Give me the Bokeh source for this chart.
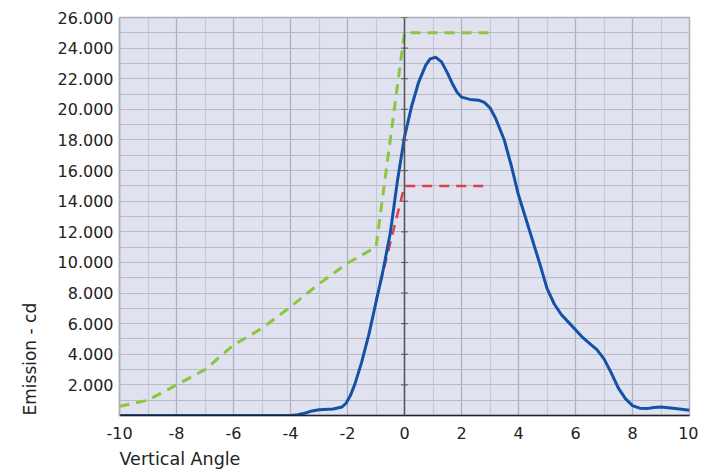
from bokeh.plotting import figure
from bokeh.models import FixedTicker, Title, Span
from bokeh.embed import file_html
from bokeh.resources import INLINE

# ---- data ----
blue_x = [-10, -9, -8, -7, -6, -5, -4, -3.75, -3.5, -3.25, -3, -2.5, -2.2, -2.05, -1.9, -1.75, -1.6,
          -1.5, -1.25, -1, -0.75, -0.5, -0.25, 0, 0.25, 0.5, 0.75, 0.9, 1.1, 1.3, 1.5, 1.7, 1.85,
          2.0, 2.3, 2.6, 2.8, 3.0, 3.2, 3.5, 3.75, 4, 4.25, 4.5, 4.75, 5, 5.25, 5.5, 5.75, 6, 6.25,
          6.5, 6.75, 7, 7.25, 7.5, 7.75, 8, 8.25, 8.5, 8.75, 9, 9.5, 10]
blue_y = [0, 0, 0, 0, 0, 0, 0, 50, 150, 300, 380, 420, 550, 800, 1300, 2000, 2900,
          3500, 5300, 7400, 9500, 11900, 15300, 18200, 20200, 21800, 22900, 23300, 23400, 23100, 22400, 21600, 21100,
          20800, 20650, 20600, 20450, 20100, 19400, 18000, 16300, 14400, 12900, 11400, 9900, 8300, 7300, 6600, 6100, 5600, 5100,
          4700, 4300, 3700, 2800, 1800, 1100, 650, 480, 450, 520, 550, 450, 350]

green_x = [-10, -9, -8, -7, -6, -5, -4, -3, -2, -1, 0, 3]
green_y = [600, 1000, 2000, 3000, 4600, 5700, 7100, 8600, 9950, 11000, 25000, 25000]

red_x = [-1, 0, 3]
red_y = [7500, 15000, 15000]

x_ticks = [-10, -8, -6, -4, -2, 0, 2, 4, 6, 8, 10]
x_tick_labels = ["-10", "-8", "-6", "-4", "-2", "0", "2", "4", "6", "8", "10"]
x_minor = list(range(-10, 11))
y_ticks = [2000, 4000, 6000, 8000, 10000, 12000, 14000, 16000, 18000, 20000, 22000, 24000, 26000]
y_tick_labels = ["2.000", "4.000", "6.000", "8.000", "10.000", "12.000", "14.000",
                 "16.000", "18.000", "20.000", "22.000", "24.000", "26.000"]
y_minor = list(range(0, 26001, 1000))
x_title = "Vertical Angle"
y_title = "Emission - cd"

FONT = "DejaVu Sans"

p = figure(width=698, height=474, x_range=(-10, 10), y_range=(0, 26000),
           output_backend="svg", toolbar_location=None,
           min_border_left=119, min_border_right=9, min_border_top=17, min_border_bottom=58)

p.background_fill_color = "#e0e2f0"
p.border_fill_color = "white"
p.outline_line_color = "#b0b0b8"
p.outline_line_width = 1.5

p.xaxis.ticker = FixedTicker(ticks=x_ticks, minor_ticks=x_minor)
p.yaxis.ticker = FixedTicker(ticks=y_ticks, minor_ticks=y_minor)
p.xaxis.major_label_overrides = {t: l for t, l in zip(x_ticks, x_tick_labels)}
p.yaxis.major_label_overrides = {t: l for t, l in zip(y_ticks, y_tick_labels)}

for ax in (p.xaxis, p.yaxis):
    ax.major_tick_out = 0
    ax.major_tick_in = 0
    ax.minor_tick_out = 0
    ax.minor_tick_in = 0
    ax.major_label_text_font = FONT
    ax.major_label_text_font_size = "16px"
    ax.major_label_text_color = "#222222"

p.xaxis.axis_line_color = "#222222"
p.xaxis.axis_line_width = 1.5
p.xaxis.major_label_standoff = 11
p.yaxis.axis_line_color = "#b0b0b8"
p.yaxis.axis_line_width = 1.5
p.yaxis.major_label_standoff = 6

p.xgrid.grid_line_color = "#aeb0be"
p.ygrid.grid_line_color = "#b8bac8"
p.xgrid.minor_grid_line_color = "#c6c8d6"
p.ygrid.minor_grid_line_color = "#b8bac8"
p.grid.grid_line_width = 1.2
p.grid.minor_grid_line_width = 1.2

# vertical axis line at x = 0
p.add_layout(Span(location=0, dimension="height", line_color="#555555", line_width=1.5))
p.scatter(x=[0] * len(y_ticks), y=y_ticks, marker="dash", size=7, line_color="#555555", line_width=1)

p.line(green_x, green_y, line_color="#8cc63f", line_width=3, line_dash="10 7")
p.line(red_x, red_y, line_color="#e0404c", line_width=2.5, line_dash="10 7")
p.line(blue_x, blue_y, line_color="#1452a8", line_width=3, line_join="round")

p.add_layout(Title(text=x_title, align="left", text_font=FONT, text_font_size="17.5px",
                   text_font_style="normal", text_color="#222222", standoff=11), "below")
p.add_layout(Title(text=y_title, align="left", text_font=FONT, text_font_size="17px",
                   text_font_style="normal", text_color="#222222", standoff=30), "left")

open("out.html", "w").write(file_html(p, INLINE))
